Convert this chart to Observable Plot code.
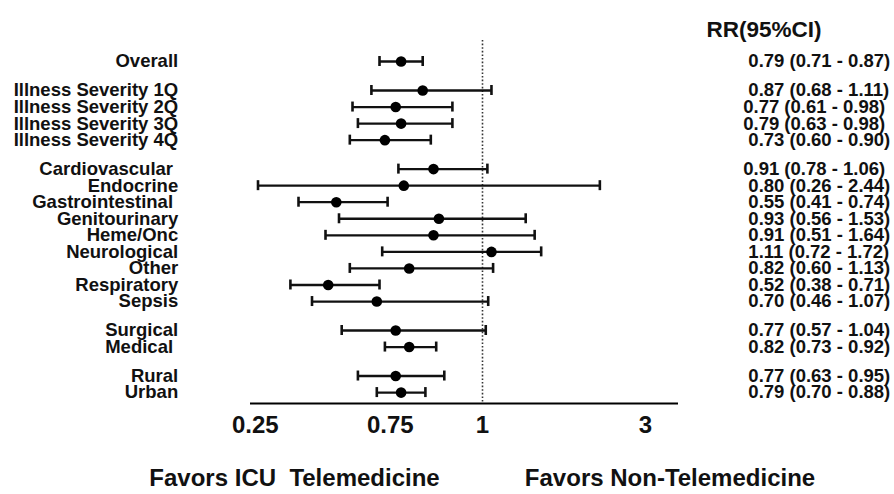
<!DOCTYPE html>
<html><head><meta charset="utf-8">
<script src="https://cdn.jsdelivr.net/npm/d3@7"></script>
<script src="https://cdn.jsdelivr.net/npm/@observablehq/plot@0.6"></script>
<style>
html,body{margin:0;padding:0;background:#fff;}
#chart svg text{white-space:pre;}
</style></head><body><div id="chart"></div>
<script>
const labels = ["Overall",
  "Illness Severity 1Q", "Illness Severity 2Q", "Illness Severity 3Q", "Illness Severity 4Q",
  "Cardiovascular ", "Endocrine", "Gastrointestinal ", "Genitourinary", "Heme/Onc", "Neurological", "Other", "Respiratory", "Sepsis",
  "Surgical", "Medical ",
  "Rural", "Urban"];
const rr = [0.79, 0.87, 0.77, 0.79, 0.73, 0.91, 0.80, 0.55, 0.93, 0.91, 1.11, 0.82, 0.52, 0.70, 0.77, 0.82, 0.77, 0.79];
const lo = [0.71, 0.68, 0.61, 0.63, 0.60, 0.78, 0.26, 0.41, 0.56, 0.51, 0.72, 0.60, 0.38, 0.46, 0.57, 0.73, 0.63, 0.70];
const hi = [0.87, 1.11, 0.98, 0.98, 0.90, 1.06, 2.44, 0.74, 1.53, 1.64, 1.72, 1.13, 0.71, 1.07, 1.04, 0.92, 0.95, 0.88];
const ciText = [" 0.79 (0.71 - 0.87)",
  " 0.87 (0.68 - 1.11)", "0.77 (0.61 - 0.98)", "0.79 (0.63 - 0.98)", " 0.73 (0.60 - 0.90)",
  "0.91 (0.78 - 1.06)", " 0.80 (0.26 - 2.44)", " 0.55 (0.41 - 0.74)", " 0.93 (0.56 - 1.53)", " 0.91 (0.51 - 1.64)",
  " 1.11 (0.72 - 1.72)", " 0.82 (0.60 - 1.13)", " 0.52 (0.38 - 0.71)", " 0.70 (0.46 - 1.07)",
  " 0.77 (0.57 - 1.04)", " 0.82 (0.73 - 0.92)",
  " 0.77 (0.63 - 0.95)", " 0.79 (0.70 - 0.88)"];
const groupSizes = [1, 4, 9, 2, 2];
const tickValues = [0.25, 0.75, 1, 3];
const tickLabels = ["0.25", "0.75", "1", "3"];
const header = "RR(95%CI)";
const favorsLeft = "Favors ICU  Telemedicine";
const favorsRight = "Favors Non-Telemedicine";

// row layout: one unit per row, extra gap between groups
const pos = [];
let p = 0;
groupSizes.forEach((n, g) => {
  if (g > 0) p += 0.75;
  for (let k = 0; k < n; k++) { pos.push(p); p += 1; }
});
const rows = labels.map((label, i) => ({label, rr: rr[i], lo: lo[i], hi: hi[i], ci: ciText[i], pos: pos[i]}));

const yDomain = [-1.27, 20.66];
const font = "'Liberation Sans', Arial, Helvetica, sans-serif";

const chart = Plot.plot({
  width: 894, height: 494,
  marginLeft: 250, marginRight: 216, marginTop: 40, marginBottom: 91,
  x: {type: "linear", domain: [0.2322, 0.99999, 1, 3.405], range: [250, 457.3, 482, 678], axis: null},
  y: {domain: yDomain, reverse: true, axis: null},
  style: {fontFamily: font, color: "#000", background: "#fff"},
  marks: [
    Plot.ruleX([1], {stroke: "#333", strokeWidth: 1.6, strokeDasharray: "1.6 2"}),
    Plot.ruleY([yDomain[1]], {stroke: "#000", strokeWidth: 2}),
    Plot.ruleY(rows, {y: "pos", x1: "lo", x2: "hi", stroke: "#111", strokeWidth: 2.3}),
    Plot.ruleX(rows, {x: "lo", y1: "pos", y2: "pos", insetTop: -5, insetBottom: -5, stroke: "#111", strokeWidth: 2.6}),
    Plot.ruleX(rows, {x: "hi", y1: "pos", y2: "pos", insetTop: -5, insetBottom: -5, stroke: "#111", strokeWidth: 2.6}),
    Plot.dot(rows, {x: "rr", y: "pos", r: 5.3, fill: "#000", stroke: null}),
    Plot.text(rows, {y: "pos", text: "label", frameAnchor: "left", dx: -72.3, textAnchor: "end", fontSize: 18.5, fontWeight: "bold", fill: "#111"}),
    Plot.text(rows, {y: "pos", text: "ci", frameAnchor: "right", dx: 64.7, textAnchor: "start", fontSize: 18.5, fontWeight: "bold", fill: "#111"}),
    Plot.text([header], {frameAnchor: "top-right", dx: 143, dy: -19, fontSize: 22.5, fontWeight: "bold", fill: "#111"}),
    Plot.text(tickValues, {x: d => d, text: (d, i) => tickLabels[i], frameAnchor: "bottom", dy: 29, fontSize: 24, fontWeight: "bold", fill: "#111"}),
    Plot.text([favorsLeft], {frameAnchor: "bottom", dx: -170, dy: 82, fontSize: 24, fontWeight: "bold", fill: "#111"}),
    Plot.text([favorsRight], {frameAnchor: "bottom", dx: 205.5, dy: 82, fontSize: 24, fontWeight: "bold", fill: "#111"})
  ]
});
document.getElementById("chart").appendChild(chart);
</script></body></html>
